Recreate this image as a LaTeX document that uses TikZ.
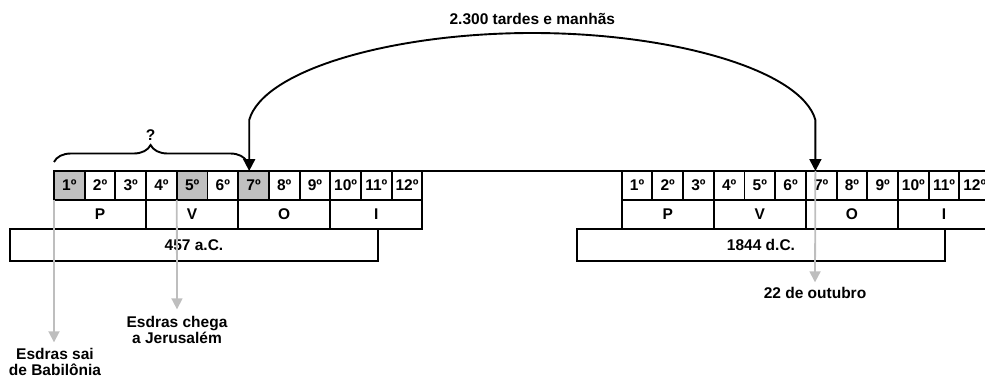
\documentclass[tikz,border=0pt]{standalone}
\usepackage{fontspec}
\setmainfont{Liberation Sans}
\usetikzlibrary{shapes,arrows.meta,positioning,calc,decorations.pathreplacing}
\definecolor{cellgray}{RGB}{192,192,192}
\definecolor{linegray}{RGB}{190,190,190}

\begin{document}
\begin{tikzpicture}[x=1pt,y=-1pt,every node/.style={outer sep=0pt,font=\bfseries\fontsize{15.5}{16}\selectfont}]
\tikzstyle{month}=[draw,line width=1.9pt,minimum width=30.7pt,minimum height=29pt,inner sep=0pt,anchor=north west]
\tikzstyle{season}=[draw,line width=1.9pt,minimum width=92.1pt,minimum height=29pt,inner sep=0pt,anchor=north west]
\tikzstyle{year}=[draw,line width=1.9pt,minimum width=368pt,minimum height=32pt,inner sep=0pt,anchor=north west]
\tikzstyle{span}=[line width=1.9pt,{Triangle[width=12pt,length=12pt]}-{Triangle[width=12pt,length=12pt]}]
\tikzstyle{event}=[linegray,line width=1.8pt,-{Triangle[width=11pt,length=11pt]}]
\tikzstyle{brace}=[line width=1.9pt,decorate,decoration={brace,amplitude=17pt}]
\tikzstyle{note}=[align=center,inner sep=1pt]
%
\useasboundingbox (0,0) rectangle (985,377);
\clip (0,0) rectangle (985,377);
%
\foreach \i/\f in {1/cellgray,2/white,3/white,4/white,5/cellgray,6/white,
7/cellgray,8/white,9/white,10/white,11/white,12/white}
\node (L\i) [month,fill=\f] at ({54+30.7*(\i-1)},171) {\i º};
\foreach \i in {1,...,12}
\node (R\i) [month] at ({621.7+30.7*(\i-1)},171) {\i º};
%
\foreach \s/\n in {P/1,V/4,O/7,I/10}
{
\node (L\s) [season] at (L\n.south west) {\s};
\node (R\s) [season] at (R\n.south west) {\s};
}
\node (Lyear) [year] at ($(LP.south west)+(-44,0)$) {457 a.C.};
\node (Ryear) [year] at ($(RP.south west)+(-44.7,0)$) {1844 d.C.};
\draw [line width=1.9pt] (L12.north east) -- (R1.north west);
%
\coordinate (tipL) at ($(L7.north west)+(11,0)$);
\coordinate (tipR) at ($(R7.north west)+(9.5,0)$);
\coordinate (turnL) at ($(tipL)+(0,-51)$);
\coordinate (turnR) at ($(tipR)+(0,-51)$);
\coordinate (top) at ($(turnL)!0.5!(turnR)+(0,-87)$);
\draw [span] (tipL) -- (turnL) .. controls ($(turnL)+(14,-50)$) and ($(top)+(-140,0)$) .. (top)
.. controls ($(top)+(140,0)$) and ($(turnR)+(-14,-50)$) .. (turnR) -- (tipR);
\node (days) [above=5pt of top] {2.300 tardes e manhãs};
%
\draw [brace] ($(L1.north west)+(0,-9)$) -- node (what) [above=18pt] {?} ($(L7.north west)+(9,-9)$);
%
\node (sai) [note] at (55,362) {Esdras sai\\de Babilônia};
\node (chega) [note] at (177,330) {Esdras chega\\a Jerusalém};
\node (oct) [note] at (815,293) {22 de outubro};
\draw [event] (L1.south west) -- ($(sai.north)+(-1,-5)$);
\draw [event] (L5.south west) -- ($(chega.north)+(0,-6)$);
\draw [event] (tipR) -- ($(oct.north)+(0,-4)$);
\end{tikzpicture}
\end{document}
